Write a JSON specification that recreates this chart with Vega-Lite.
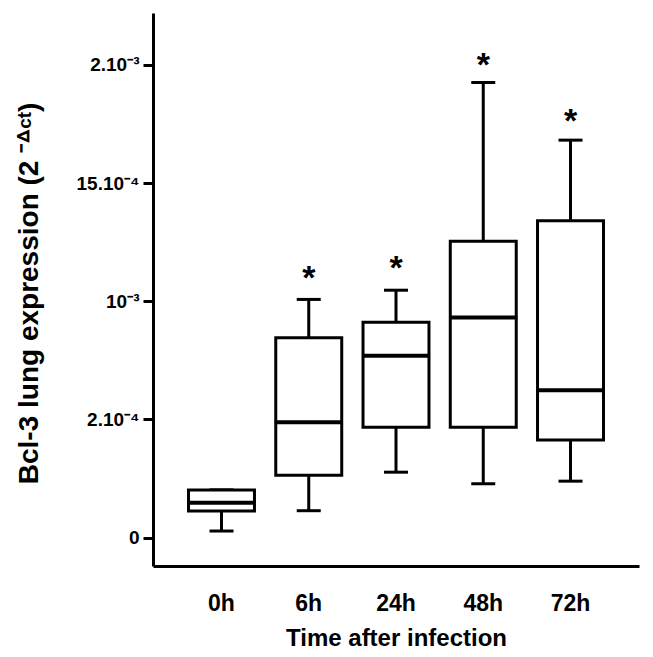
{
  "$schema": "https://vega.github.io/schema/vega-lite/v6.json",
  "width": 486,
  "height": 553,
  "autosize": {"type": "none"},
  "padding": {"left": 153, "top": 13, "right": 14, "bottom": 91},
  "background": "white",
  "config": {"view": {"stroke": null}, "font": "Liberation Sans"},
  "data": {
    "values": [
      {"time": "0h", "lower": 0.028, "q1": 0.113, "median": 0.148, "q3": 0.202, "upper": 0.202, "star": null},
      {"time": "6h", "lower": 0.114, "q1": 0.264, "median": 0.488, "q3": 0.846, "upper": 1.008, "star": 1.125},
      {"time": "24h", "lower": 0.277, "q1": 0.467, "median": 0.770, "q3": 0.911, "upper": 1.047, "star": 1.165},
      {"time": "48h", "lower": 0.228, "q1": 0.467, "median": 0.932, "q3": 1.254, "upper": 1.926, "star": 2.025},
      {"time": "72h", "lower": 0.239, "q1": 0.413, "median": 0.624, "q3": 1.341, "upper": 1.682, "star": 1.788}
    ]
  },
  "encoding": {
    "x": {
      "field": "time",
      "type": "nominal",
      "sort": ["0h", "6h", "24h", "48h", "72h"],
      "scale": {"paddingInner": 0, "paddingOuter": 0.285},
      "axis": {
        "title": "Time after infection",
        "labelAngle": 0,
        "ticks": false,
        "tickSize": 0,
        "domainWidth": 3,
        "domainColor": "black",
        "labelFontSize": 23,
        "labelFontWeight": "bold",
        "labelColor": "black",
        "labelPadding": 26,
        "titleFontSize": 24,
        "titleFontWeight": "bold",
        "titleColor": "black",
        "titlePadding": 11
      }
    }
  },
  "layer": [
    {
      "mark": {"type": "rule", "color": "black", "strokeWidth": 3},
      "encoding": {
        "y": {
          "field": "lower",
          "type": "quantitative",
          "scale": {"domain": [-0.12, 2.22], "nice": false, "zero": false},
          "axis": {
            "values": [0, 0.5, 1, 1.5, 2],
            "labelExpr": "datum.value == 0 ? '0' : datum.value == 0.5 ? '2.10⁻⁴' : datum.value == 1 ? '10⁻³' : datum.value == 1.5 ? '15.10⁻⁴' : '2.10⁻³'",
            "grid": false,
            "domainWidth": 3,
            "domainColor": "black",
            "tickWidth": 3,
            "tickColor": "black",
            "tickSize": 10,
            "labelFontSize": 19,
            "labelFontWeight": "bold",
            "labelColor": "black",
            "labelPadding": 4,
            "title": "Bcl-3 lung expression (2 ⁻ᐞᶜᵗ)",
            "titleFontSize": 28,
            "titleFontWeight": "bold",
            "titleColor": "black",
            "titleAngle": 270,
            "titleAlign": "center",
            "titleBaseline": "middle",
            "titleX": -124,
            "titleY": 280
          }
        },
        "y2": {"field": "upper"}
      }
    },
    {
      "mark": {"type": "tick", "color": "black", "opacity": 1, "thickness": 3, "size": 24, "orient": "horizontal"},
      "encoding": {"y": {"field": "lower", "type": "quantitative"}}
    },
    {
      "mark": {"type": "tick", "color": "black", "opacity": 1, "thickness": 3, "size": 24, "orient": "horizontal"},
      "encoding": {"y": {"field": "upper", "type": "quantitative"}}
    },
    {
      "mark": {"type": "bar", "fill": "white", "stroke": "black", "strokeWidth": 3, "opacity": 1, "width": {"band": 0.756}},
      "encoding": {
        "y": {"field": "q1", "type": "quantitative"},
        "y2": {"field": "q3"}
      }
    },
    {
      "mark": {"type": "tick", "color": "black", "opacity": 1, "thickness": 4, "size": 68, "orient": "horizontal"},
      "encoding": {"y": {"field": "median", "type": "quantitative"}}
    },
    {
      "transform": [{"filter": "datum.star != null"}],
      "mark": {"type": "text", "text": "*", "fontSize": 34, "fontWeight": "bold", "color": "black", "baseline": "alphabetic", "dy": 17},
      "encoding": {"y": {"field": "star", "type": "quantitative"}}
    }
  ]
}
